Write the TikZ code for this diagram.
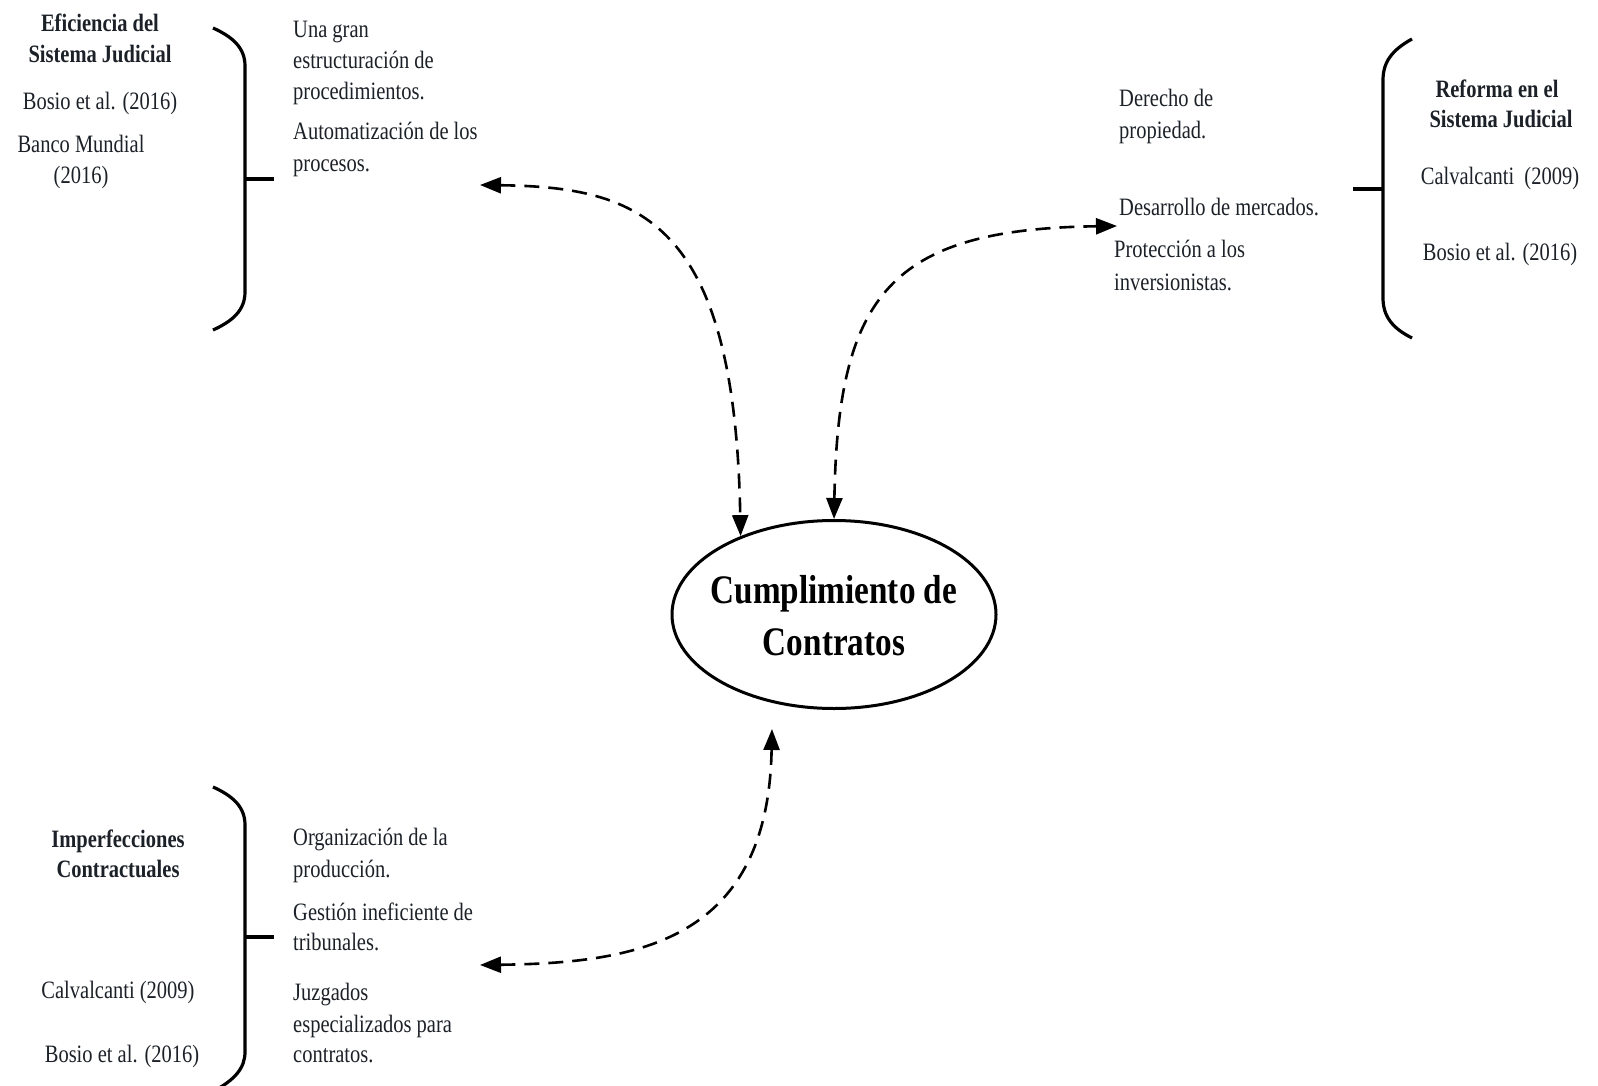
\documentclass[tikz,border=0pt]{standalone}
\usepackage{fontspec}
\setmainfont[FakeStretch=0.82]{Liberation Serif}
\usetikzlibrary{arrows.meta,shapes.geometric}
\definecolor{ink}{HTML}{1C2128}
\begin{document}
\begin{tikzpicture}[x=1pt,y=-1pt,
  txt/.style={anchor=base west,inner sep=0pt,text=ink,font=\fontsize{25}{30}\selectfont},
  ctr/.style={anchor=base,inner sep=0pt,text=ink,font=\fontsize{25}{30}\selectfont},
  head/.style={anchor=base,inner sep=0pt,text=ink,font=\fontsize{25}{30}\selectfont\bfseries},
  big/.style={anchor=base,inner sep=0pt,text=black,font=\fontsize{40.5}{50}\selectfont\bfseries},
  brace/.style={line width=3.2pt},
  link/.style={line width=2.6pt,dash pattern=on 15pt off 9pt,
    {Triangle[length=21pt,width=16pt]}-{Triangle[length=21pt,width=16pt]}},
  hub/.style={ellipse,draw,line width=3pt,minimum width=324pt,minimum height=188pt,inner sep=0pt}
]
\useasboundingbox (0,0) rectangle (1598,1086);
\clip (0,0) rectangle (1598,1086);

% central node
\node[hub] (cc) at (834,614.5) {};
\node[big] (ccA) at (834,603) {Cumplimiento de};
\node[big] (ccB) at (834,655) {Contratos};

% top left group
\node[head] (h1a) at (100,32) {Eficiencia del};
\node[head] (h1b) at (100,63) {Sistema Judicial};
\node[ctr] (r1a) at (100,110) {Bosio et al. (2016)};
\node[ctr] (r1b) at (81,153) {Banco Mundial};
\node[ctr] (r1c) at (81,184) {(2016)};
\draw[brace] (213,28) .. controls (233,37) and (245,48) .. (245,66) -- (245,292)
  .. controls (245,310) and (233,321) .. (213,330);
\draw[brace] (245,179) -- (274,179);
\node[txt] (t1a) at (293,38) {Una gran};
\node[txt] (t1b) at (293,69) {estructuración de};
\node[txt] (t1c) at (293,100) {procedimientos.};
\node[txt] (t1d) at (293,140) {Automatización de los};
\node[txt] (t1e) at (293,172) {procesos.};

% top right group
\node[txt] (t2a) at (1119,107) {Derecho de};
\node[txt] (t2b) at (1119,139) {propiedad.};
\node[txt] (t2c) at (1119,215) {Desarrollo de mercados.};
\node[txt] (t2d) at (1114,258) {Protección a los};
\node[txt] (t2e) at (1114,290) {inversionistas.};
\draw[brace] (1412,39) .. controls (1392,50) and (1383,62) .. (1383,80) -- (1383,298)
  .. controls (1383,316) and (1392,328) .. (1412,338);
\draw[brace] (1353,189) -- (1383,189);
\node[head] (h2a) at (1497,98) {Reforma en el};
\node[head] (h2b) at (1501,128) {Sistema Judicial};
\node[ctr] (r2a) at (1500,185) {Calvalcanti\ \ (2009)};
\node[ctr] (r2b) at (1500,260) {Bosio et al. (2016)};

% bottom left group
\node[head] (h3a) at (118,847) {Imperfecciones};
\node[head] (h3b) at (118,877) {Contractuales};
\node[ctr] (r3a) at (118,998) {Calvalcanti (2009)};
\node[ctr] (r3b) at (122,1062) {Bosio et al. (2016)};
\draw[brace] (213,787) .. controls (233,796) and (245,807) .. (245,825) -- (245,1052)
  .. controls (245,1068) and (235,1080) .. (212,1092);
\draw[brace] (245,937) -- (274,937);
\node[txt] (t3a) at (293,845) {Organización de la};
\node[txt] (t3b) at (293,877) {producción.};
\node[txt] (t3c) at (293,920) {Gestión ineficiente de};
\node[txt] (t3d) at (293,950) {tribunales.};
\node[txt] (t3e) at (293,1000) {Juzgados};
\node[txt] (t3f) at (293,1032) {especializados para};
\node[txt] (t3g) at (293,1062) {contratos.};

% connectors
\coordinate (tl) at (480,185);
\coordinate (tr) at (1117,226);
\coordinate (bl) at (480,965);
\coordinate (bu) at (772,729);
\draw[link] (tl) .. controls (640,187) and (735,220) .. (cc.140.9);
\draw[link] (cc.north) .. controls (838,295) and (890,229) .. (tr);
\draw[link] (bl) .. controls (640,963) and (768,940) .. (bu);
\end{tikzpicture}
\end{document}
